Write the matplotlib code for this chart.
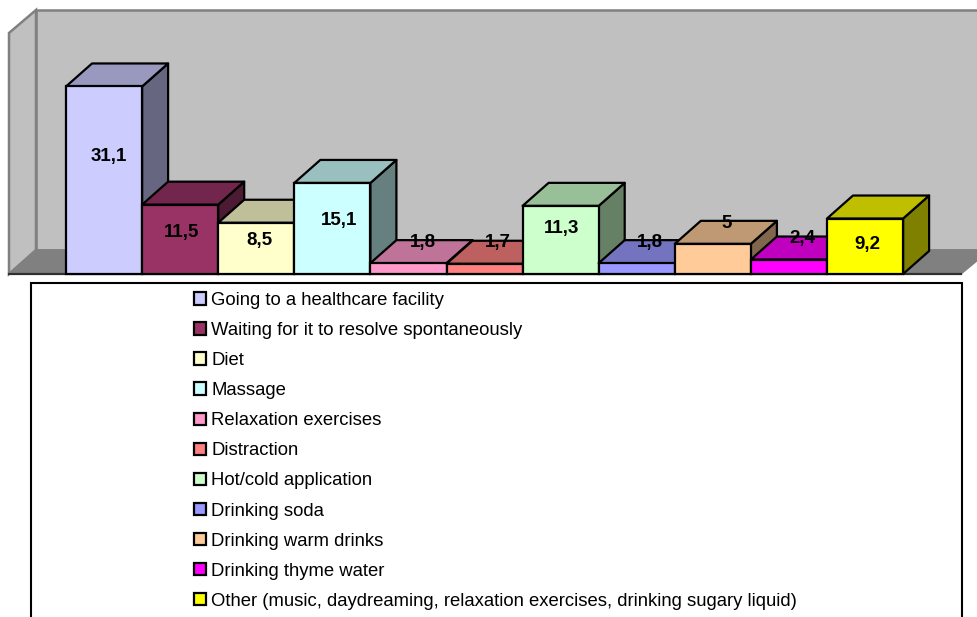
import matplotlib.pyplot as plt
from matplotlib.patches import Patch, Polygon, Rectangle
import matplotlib.colors as mcolors

plt.rcParams['font.family'] = ['Liberation Sans', 'DejaVu Sans']

categorias = ["Going to a healthcare facility", "Waiting for it to resolve spontaneously",
              "Diet", "Massage", "Relaxation exercises", "Distraction",
              "Hot/cold application", "Drinking soda", "Drinking warm drinks",
              "Drinking thyme water",
              "Other (music, daydreaming, relaxation exercises, drinking sugary liquid)"]
valores = [31.1, 11.5, 8.5, 15.1, 1.8, 1.7, 11.3, 1.8, 5, 2.4, 9.2]
etiquetas = ["31,1", "11,5", "8,5", "15,1", "1,8", "1,7", "11,3", "1,8", "5", "2,4", "9,2"]
colores = ["#CCCCFF", "#993366", "#FFFFCC", "#CCFFFF", "#FF99CC", "#FF8080",
           "#CCFFCC", "#9999FF", "#FFCC99", "#FF00FF", "#FFFF00"]

# where the labels sit in the picture (pixels)
label_x = [109, 182, 259, 339, 423, 498, 562, 650, 727, 802, 867]
label_y = [157, 233, 240, 220, 242, 243, 229, 242, 223, 239, 244]

W, H = 977, 617
fig = plt.figure(figsize=(W / 100, H / 100), dpi=100)

# background axes in pixels: walls, floor, legend box
fondo = fig.add_axes([0, 0, 1, 1])
fondo.set_xlim(0, W)
fondo.set_ylim(H, 0)
fondo.axis("off")
fondo.add_patch(Polygon([(36, 10), (990, 10), (990, 250), (36, 250)], fc="#C0C0C0", ec="#808080", lw=1.8))
fondo.add_patch(Polygon([(9, 33), (36, 10), (36, 250), (9, 274)], fc="#C0C0C0", ec="#808080", lw=1.8))
fondo.add_patch(Polygon([(9, 274), (36, 250), (990, 250), (961, 274)], fc="#808080", ec="#808080", lw=1))
fondo.plot([9, 961], [274, 274], color="#303030", lw=1.6)
fondo.add_patch(Rectangle((30.5, 283), 931, 350, fc="white", ec="black", lw=1.5))

# bars axes: one unit on x is a bar, y is in chart values
ancho = 76.1
escala = 6.03
base = 274
x0 = 66
ax = fig.add_axes([0, 0, 1, 1])
ax.patch.set_alpha(0)
ax.set_xlim(-x0 / ancho - 0.5, (W - x0) / ancho - 0.5)
ax.set_ylim(-(H - base) / escala, base / escala)
ax.axis("off")

dx = 26 / ancho
dy = 23 / escala

for i, v in enumerate(valores):
    rgb = mcolors.to_rgb(colores[i])
    arriba = tuple(c * 0.75 for c in rgb)
    lado = tuple(c * 0.5 for c in rgb)
    z = 3 + i
    ax.add_patch(Polygon([(i + 0.5, 0), (i + 0.5 + dx, dy), (i + 0.5 + dx, v + dy), (i + 0.5, v)],
                         fc=lado, ec="black", lw=1.6, zorder=z, joinstyle="round"))
    ax.add_patch(Polygon([(i - 0.5, v), (i - 0.5 + dx, v + dy), (i + 0.5 + dx, v + dy), (i + 0.5, v)],
                         fc=arriba, ec="black", lw=1.6, zorder=z, joinstyle="round"))
    ax.bar(i, v, width=1, color=colores[i], edgecolor="black", linewidth=1.6, zorder=z)

for i in range(len(valores)):
    fondo_x, fondo_y = fondo.transData.transform((label_x[i], label_y[i]))
    ax.annotate(etiquetas[i], xy=(fondo_x, fondo_y), xycoords="figure pixels", ha="center", va="center",
                fontsize=13.5, fontweight="bold", color="black", zorder=30)

handles = [Patch(facecolor=c, edgecolor="black", linewidth=1.6) for c in colores]
ax.legend(handles, categorias, loc="upper left", bbox_to_anchor=(194 / W, 1 - 292 / H),
          bbox_transform=fig.transFigure, frameon=False, fontsize=13.35, handlelength=0.66,
          handleheight=0.66, handletextpad=0.28, labelspacing=0.705, borderpad=0, borderaxespad=0)

fig.savefig("out.png", dpi=100)
